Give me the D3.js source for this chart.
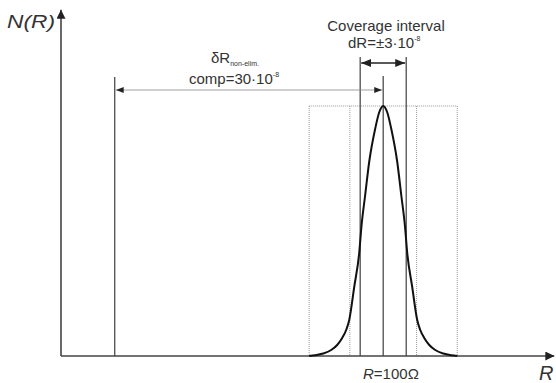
<!DOCTYPE html>
<html>
<head>
<meta charset="utf-8">
<script src="https://cdn.jsdelivr.net/npm/d3@7"></script>
<style>
  body { margin: 0; background: #fff; }
  text { font-family: "Liberation Sans", Arial, sans-serif; fill: #333; }
</style>
</head>
<body>
<div id="chart"></div>
<script>
// schematic units: 0 = nominal R, coverage interval = +-3
const curveX = [-9.65, -8.87, -7.82, -6.78, -6.0, -5.35, -4.83, -4.43, -3.78, -3.13, -2.82, -2.35, -1.83, -1.04, -0.52, 0,
                0.52, 1.04, 1.83, 2.35, 2.82, 3.13, 3.78, 4.43, 4.83, 5.35, 6.0, 6.78, 7.82, 8.87, 9.65];
const curveY = [0, 0.003, 0.01, 0.024, 0.044, 0.072, 0.104, 0.144, 0.276, 0.412, 0.524, 0.644, 0.776, 0.91, 0.975, 1,
                0.975, 0.91, 0.776, 0.644, 0.524, 0.412, 0.276, 0.144, 0.104, 0.072, 0.044, 0.024, 0.01, 0.003, 0];

const compLimit = -35;        // non-eliminated component, 30*10^-8
const coverage = [-3, 3];     // coverage interval
const innerDotted = [-4.35, 4.35];
const outerDotted = [-9.65, 9.65];

const width = 556, height = 383;

const svg = d3.select("#chart")
  .append("svg")
    .attr("width", width)
    .attr("height", height);

const x = d3.scaleLinear().domain([-42, 22]).range([61, 552]);
const y = d3.scaleLinear().domain([0, 1]).range([356, 106]);

// arrow heads
const defs = svg.append("defs");
function marker(id, w, h, color) {
  defs.append("marker")
    .attr("id", id)
    .attr("viewBox", `0 0 ${w} ${h}`)
    .attr("refX", w).attr("refY", h / 2)
    .attr("markerWidth", w).attr("markerHeight", h)
    .attr("markerUnits", "userSpaceOnUse")
    .attr("orient", "auto-start-reverse")
    .append("path")
      .attr("d", `M0,0L${w},${h / 2}L0,${h}Z`)
      .attr("fill", color);
}
marker("axisArrow", 9, 9, "#222");
marker("smallArrow", 8, 6, "#222");
marker("covArrow", 10, 8, "#222");

// dotted boxes
const dotted = svg.append("g")
  .attr("stroke", "#999")
  .attr("stroke-width", 1)
  .attr("stroke-dasharray", "1,1")
  .attr("fill", "none");
dotted.append("line")
  .attr("x1", x(outerDotted[0])).attr("x2", x(outerDotted[1]))
  .attr("y1", y(1)).attr("y2", y(1));
dotted.selectAll(".dv")
  .data(outerDotted.concat(innerDotted))
  .join("line")
    .attr("x1", d => x(d)).attr("x2", d => x(d))
    .attr("y1", y(1)).attr("y2", y(0));

// solid vertical lines
const vlines = [
  { v: compLimit, top: 1.116 },
  { v: 0, top: 1.12 },
  { v: coverage[0], top: 1.196 },
  { v: coverage[1], top: 1.196 }
];
svg.append("g")
  .selectAll("line")
  .data(vlines)
  .join("line")
    .attr("x1", d => x(d.v)).attr("x2", d => x(d.v))
    .attr("y1", d => y(d.top)).attr("y2", y(0))
    .attr("stroke", "#5a5a5a")
    .attr("stroke-width", 1.4);

// dimension arrows
svg.append("line")
  .attr("x1", x(compLimit) + 1).attr("x2", x(0) - 1)
  .attr("y1", y(1.064)).attr("y2", y(1.064))
  .attr("stroke", "#888").attr("stroke-width", 0.8)
  .attr("marker-start", "url(#smallArrow)")
  .attr("marker-end", "url(#smallArrow)");

svg.append("line")
  .attr("x1", x(coverage[0]) + 1).attr("x2", x(coverage[1]) - 1)
  .attr("y1", y(1.172)).attr("y2", y(1.172))
  .attr("stroke", "#222").attr("stroke-width", 1.5)
  .attr("marker-start", "url(#covArrow)")
  .attr("marker-end", "url(#covArrow)");

// axes
svg.append("line")
  .attr("x1", x(-42)).attr("x2", x(-42))
  .attr("y1", y(0)).attr("y2", y(1.385))
  .attr("stroke", "#444").attr("stroke-width", 1.6)
  .attr("marker-end", "url(#axisArrow)");
svg.append("line")
  .attr("x1", x(-42)).attr("x2", x(22.3))
  .attr("y1", y(0)).attr("y2", y(0))
  .attr("stroke", "#444").attr("stroke-width", 1.6)
  .attr("marker-end", "url(#axisArrow)");

// distribution curve
const line = d3.line()
  .x((d, i) => x(curveX[i]))
  .y(d => y(d))
  .curve(d3.curveMonotoneX);
svg.append("path")
  .datum(curveY)
  .attr("d", line)
  .attr("fill", "none")
  .attr("stroke", "#111")
  .attr("stroke-width", 2);

// labels
svg.append("text")
  .attr("x", 7).attr("y", 28)
  .attr("font-size", 19).attr("font-style", "italic")
  .attr("textLength", 48).attr("lengthAdjust", "spacingAndGlyphs")
  .text("N(R)");

svg.append("text")
  .attr("x", 539).attr("y", 380)
  .attr("font-size", 20).attr("font-style", "italic")
  .text("R");

const cov = svg.append("text").attr("font-size", 15).attr("text-anchor", "middle");
cov.append("tspan").attr("x", 386).attr("y", 31).text("Coverage interval");

const dr = svg.append("text").attr("x", 348).attr("y", 48).attr("font-size", 15);
dr.append("tspan").text("dR=±3·10");
dr.append("tspan").attr("font-size", 7).attr("dy", -7).text("-8");

const dl = svg.append("text").attr("x", 211).attr("y", 63).attr("font-size", 15);
dl.append("tspan").text("δR");
dl.append("tspan").attr("font-size", 7).attr("dy", 3).text("non-elim.");

const cp = svg.append("text").attr("x", 189).attr("y", 84).attr("font-size", 15);
cp.append("tspan").text("comp=30·10");
cp.append("tspan").attr("font-size", 7).attr("dy", -7).text("-8");

const rl = svg.append("text").attr("x", 363).attr("y", 379).attr("font-size", 15);
rl.append("tspan").attr("font-style", "italic").text("R");
rl.append("tspan").text("=100Ω");
</script>
</body>
</html>
